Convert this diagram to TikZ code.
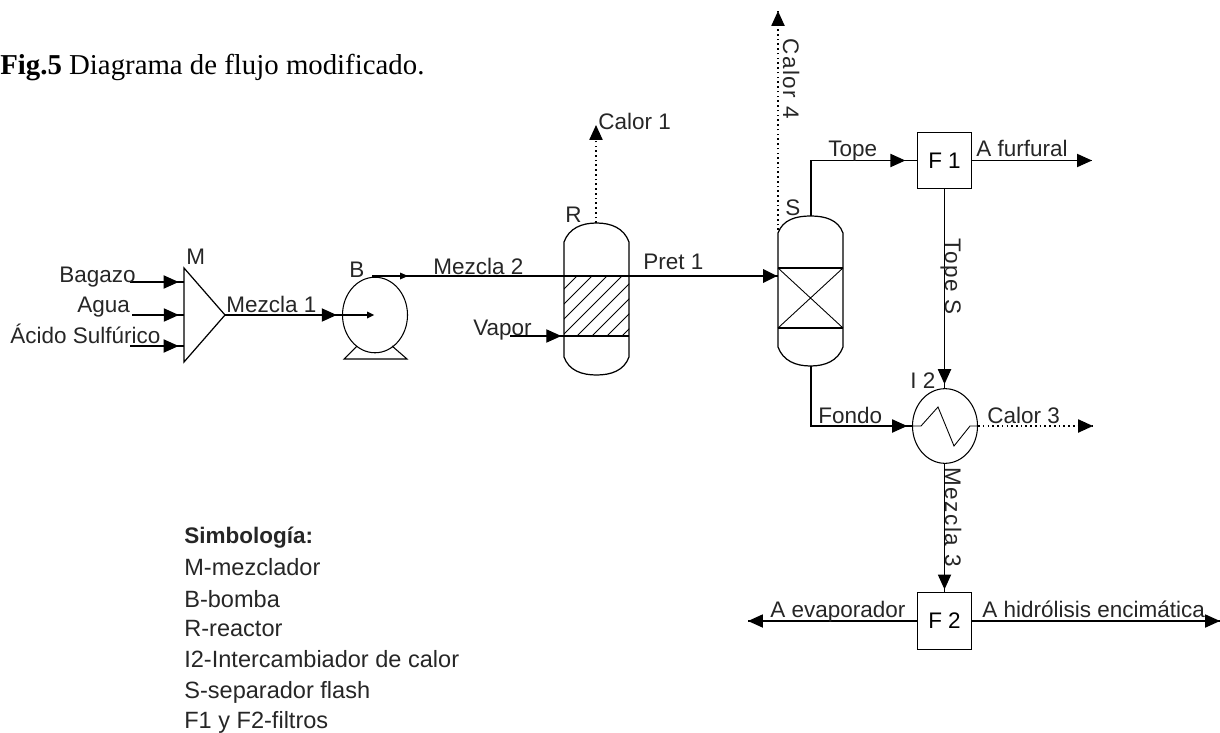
\documentclass[tikz,border=0pt]{standalone}
\usepackage{fontspec}
\setmainfont{Liberation Serif}
\newfontfamily\labelfont{Liberation Sans}
\newfontfamily\widefont[LetterSpace=7]{Liberation Sans}
\usetikzlibrary{arrows.meta,decorations.markings,shapes}

\tikzset{
  txt/.style={inner sep=0pt,font=\labelfont\fontsize{12.8}{14}\selectfont,text=black!85},
  vtxt/.style={inner sep=0pt,font=\widefont\fontsize{12.8}{14}\selectfont,text=black!85,rotate=-90},
  leg/.style={inner sep=0pt,font=\labelfont\fontsize{13.4}{15}\selectfont,text=black!85},
  box/.style={draw,line width=.7pt,minimum width=31pt,minimum height=32.3pt,inner sep=0pt,font=\labelfont\fontsize{12.8}{14}\selectfont},
  equip/.style={draw,ellipse,line width=.6pt,inner sep=0pt},
  hollow/.style={inner sep=0pt,minimum width=37pt},
  flow/.style={line width=.7pt},
  heat/.style={line width=.9pt,dash pattern=on .9pt off 1.8pt},
  headat/.style={postaction={decorate,decoration={markings,mark=at position #1 with {\arrow{Triangle[length=8.5pt,width=7.5pt]}}}}},
}

\begin{document}
\begin{tikzpicture}[x=.02cm,y=-.02cm]
\useasboundingbox (0,0) rectangle (1220,733);

% equipment
\node[equip,minimum width=37pt,minimum height=43pt] (b) at (375,315) {};
\node[equip,minimum width=37pt,minimum height=42.5pt] (i2) at (945,426) {};
\node[box] (f1) at (944.5,160.5) {F 1};
\node[box] (f2) at (944.5,621) {F 2};
\node[hollow,minimum height=86pt] (r) at (596.5,299) {};
\node[hollow,minimum height=85pt] (s) at (810.5,291) {};
\coordinate (mt) at (184,268);
\coordinate (mb) at (184,362);
\coordinate (mo) at (225,315);
\draw[flow] (mt) -- (mb) -- (mo) -- cycle;

% pump base
\draw[line width=.6pt] (357,346) -- (344,359) -- (407,359) -- (392,346);

% vessels
\draw[flow] (564,242) to[out=70,in=180] (596.5,223) to[out=0,in=110] (629,242)
  -- (629,357) to[out=250,in=0] (596.5,375) to[out=180,in=290] (564,357) -- cycle;
\draw[flow] (778,233) to[out=70,in=180] (810.5,216) to[out=0,in=110] (843,233)
  -- (843,347) to[out=250,in=0] (810.5,366) to[out=180,in=290] (778,347) -- cycle;
\draw[flow] (564,336) -- (629,336);
\draw[flow] (778,268) -- (843,268) (778,328) -- (843,328);
\draw[line width=.5pt] (778,268) -- (843,328) (778,328) -- (843,268);
\begin{scope}
\clip (564,276) rectangle (629,336);
\foreach \i in {0,...,8}
  \draw[line width=.45pt] (564+15*\i-2,276) -- +(-62,62);
\end{scope}

% coil
\draw[line width=.5pt] (i2.west) -- (921,426) -- (938,407) -- (954,446) -- (970,426) -- (i2.east);

% free ends
\coordinate (bag) at (130,282);
\coordinate (agu) at (132,315);
\coordinate (aci) at (130,346);
\coordinate (mbag) at (184,282);
\coordinate (magu) at (184,315);
\coordinate (maci) at (184,346);
\coordinate (vap) at (510,336);
\coordinate (rv) at (564,336);
\coordinate (pin) at (372,315);
\coordinate (pout) at (372,276);
\coordinate (sin) at (778,276);
\coordinate (rtop) at (596,223);
\coordinate (cal1) at (596,125);
\coordinate (stop) at (778,230);
\coordinate (cal4) at (778,11);
\coordinate (sup) at (811,216);
\coordinate (sdn) at (811,366);
\coordinate (fur) at (1092,160.5);
\coordinate (cal3) at (1093,426);
\coordinate (eva) at (748,621);
\coordinate (hid) at (1220,621);

% streams
\draw[flow,headat=.9] (bag) -- (mbag);
\draw[flow,headat=.9] (agu) -- (magu);
\draw[flow,headat=.9] (aci) -- (maci);
\draw[flow,headat=.76] (mo) -- (pin);
\fill (pin) ++(-5,-3.5) -- ++(7,3.5) -- ++(-7,3.5) -- cycle;
\draw[flow] (pout) -- (sin);
\fill (403,276) ++(-3,-3.5) -- ++(8,3.5) -- ++(-8,3.5) -- cycle;
\draw[flow,headat=.95] (vap) -- (rv);
\fill (777,276) -- ++(-14,-7) -- ++(0,14) -- cycle;
\draw[flow,headat=.93] (sup) |- (f1.west);
\draw[flow,headat=1] (f1.east) -- (fur);
\draw[flow,headat=.98] (f1.south) -- (i2.north -| f1.south);
\draw[flow,headat=.97] (sdn) |- (i2.west);
\draw[flow,headat=.98] (i2.south -| f2.north) -- (f2.north);
\draw[flow,headat=1] (f2.west) -- (eva);
\draw[flow,headat=1] (f2.east) -- (hid);
\draw[heat,headat=1] (rtop) -- (cal1);
\draw[heat,headat=1] (stop) -- (cal4);
\draw[heat,headat=1] (i2.east) -- (cal3);

% labels
\node[txt,anchor=base west] (lm) at (186,264) {M};
\node[txt,anchor=base west] (lb) at (349,277) {B};
\node[txt,anchor=base west] (lr) at (565,223) {R};
\node[txt,anchor=base west] (ls) at (785,215) {S};
\node[txt,anchor=base west] (li) at (910,388) {I 2};
\node[txt,anchor=base west] (t1) at (59,282) {Bagazo};
\node[txt,anchor=base west] (t2) at (77,312) {Agua};
\node[txt,anchor=base west] (t3) at (10,343) {Ácido Sulfúrico};
\node[txt,anchor=base west] (t4) at (226,312) {Mezcla 1};
\node[txt,anchor=base west] (t5) at (433,275) {Mezcla 2};
\node[txt,anchor=base west] (t6) at (473,335) {Vapor};
\node[txt,anchor=base west] (t7) at (643,270) {Pret 1};
\node[txt,anchor=base west] (t8) at (598,130) {Calor 1};
\node[txt,anchor=base west] (t9) at (828,157) {Tope};
\node[txt,anchor=base west] (t10) at (976,157) {A furfural};
\node[txt,anchor=base west] (t11) at (818,423) {Fondo};
\node[txt,anchor=base west] (t12) at (987,423) {Calor 3};
\node[txt,anchor=base west] (t13) at (770,617) {A evaporador};
\node[txt,anchor=base west] (t14) at (982,617) {A hidrólisis encimática};
\node[vtxt,anchor=base west] (t15) at (783,38) {Calor 4};
\node[vtxt,anchor=base west] (t16) at (945,238) {Tope S};
\node[vtxt,anchor=base west] (t17) at (945,467) {Mezcla 3};

% title and legend
\node[inner sep=0pt,anchor=base west,font=\fontsize{16.4}{19}\selectfont] (title) at (0,75) {\textbf{Fig.5} Diagrama de flujo modificado.};
\node[txt,anchor=base west] (s0) at (184,543) {\textbf{Simbología:}};
\node[leg,anchor=base west] (s1) at (184,575) {M-mezclador};
\node[leg,anchor=base west] (s2) at (184,607) {B-bomba};
\node[leg,anchor=base west] (s3) at (184,636) {R-reactor};
\node[leg,anchor=base west] (s4) at (184,667) {I2-Intercambiador de calor};
\node[leg,anchor=base west] (s5) at (184,698) {S-separador flash};
\node[leg,anchor=base west] (s6) at (184,728) {F1 y F2-filtros};
\end{tikzpicture}
\end{document}
